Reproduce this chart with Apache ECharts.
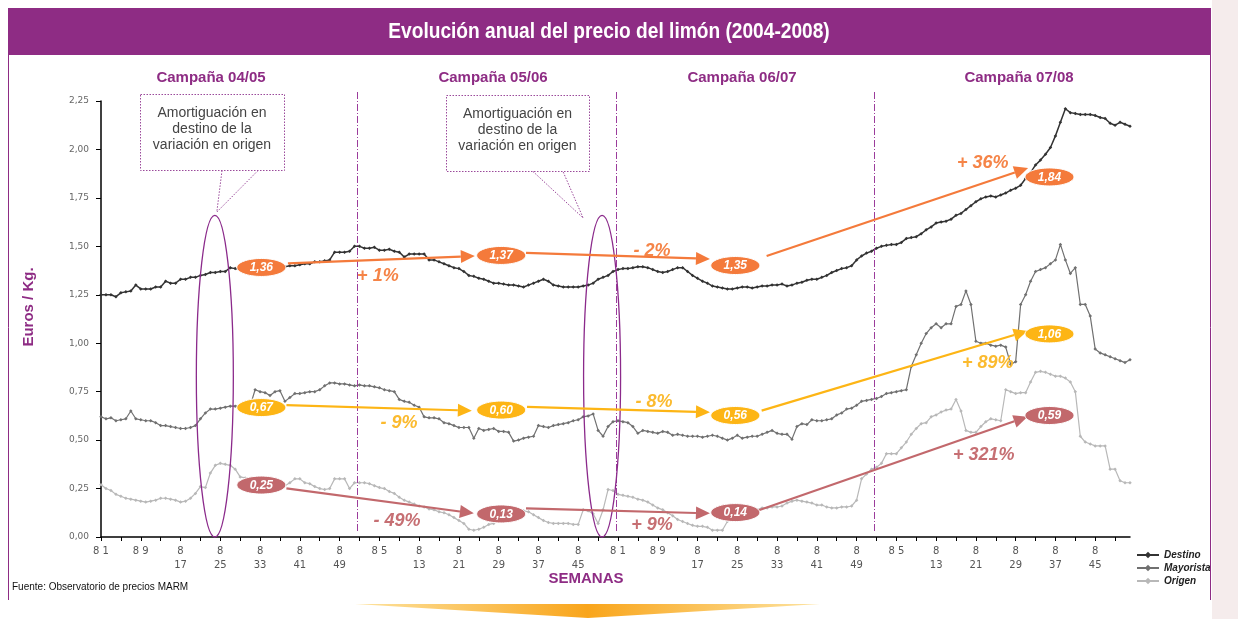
<!DOCTYPE html>
<html><head><meta charset="utf-8">
<script src="https://cdn.jsdelivr.net/npm/echarts@6/dist/echarts.min.js"></script>
<style>html,body{margin:0;padding:0;background:#fff}#c{width:1238px;height:619px}</style>
</head><body><div id="c"></div><script>
// ---------- data ----------
const campaigns = ['Campaña 04/05', 'Campaña 05/06', 'Campaña 06/07', 'Campaña 07/08'];
const weeksPerCampaign = 52;
const weeks = [];
for (let c = 0; c < campaigns.length; c++) for (let w = 1; w <= weeksPerCampaign; w++) weeks.push(String(w));
const yTickValues = [0, 0.25, 0.5, 0.75, 1, 1.25, 1.5, 1.75, 2, 2.25];

const destino = [
1.25,1.25,1.25,1.24,1.26,1.265,1.27,1.30,1.28,1.28,1.28,1.29,1.29,1.32,1.31,1.31,1.33,1.33,1.34,1.34,1.35,1.355,1.365,1.365,1.37,1.37,1.39,1.385,1.38,1.38,1.38,1.38,1.385,1.39,1.39,1.39,1.39,1.395,1.40,1.40,1.405,1.41,1.41,1.42,1.42,1.425,1.43,1.47,1.47,1.47,1.475,1.50,
1.50,1.49,1.49,1.495,1.48,1.48,1.485,1.475,1.47,1.445,1.46,1.46,1.46,1.46,1.43,1.43,1.42,1.41,1.40,1.39,1.385,1.37,1.35,1.345,1.335,1.33,1.32,1.31,1.31,1.305,1.30,1.30,1.295,1.29,1.30,1.31,1.32,1.33,1.32,1.30,1.295,1.29,1.29,1.29,1.29,1.295,1.30,1.31,1.33,1.34,1.35,1.37,
1.38,1.385,1.385,1.39,1.395,1.395,1.39,1.38,1.37,1.365,1.37,1.38,1.39,1.39,1.37,1.35,1.335,1.32,1.31,1.295,1.29,1.285,1.28,1.28,1.285,1.29,1.29,1.285,1.29,1.295,1.295,1.30,1.30,1.305,1.295,1.30,1.31,1.315,1.325,1.33,1.33,1.34,1.35,1.365,1.375,1.385,1.39,1.40,1.43,1.45,1.465,1.475,
1.49,1.50,1.505,1.51,1.51,1.52,1.54,1.545,1.55,1.565,1.585,1.60,1.62,1.625,1.63,1.64,1.66,1.67,1.69,1.71,1.73,1.745,1.755,1.76,1.755,1.765,1.775,1.79,1.80,1.815,1.85,1.88,1.92,1.945,1.975,2.01,2.07,2.14,2.21,2.19,2.185,2.18,2.18,2.18,2.175,2.165,2.16,2.135,2.125,2.14,2.13,2.12
];
const mayorista = [
0.62,0.61,0.615,0.60,0.605,0.61,0.65,0.61,0.605,0.60,0.60,0.59,0.575,0.575,0.57,0.565,0.56,0.56,0.565,0.575,0.61,0.64,0.66,0.66,0.665,0.67,0.675,0.675,0.675,0.675,0.675,0.76,0.75,0.745,0.73,0.75,0.755,0.70,0.72,0.74,0.74,0.745,0.75,0.75,0.76,0.78,0.795,0.795,0.79,0.79,0.785,0.78,
0.785,0.78,0.78,0.775,0.77,0.76,0.755,0.75,0.71,0.70,0.695,0.68,0.67,0.62,0.615,0.615,0.61,0.59,0.585,0.575,0.565,0.565,0.565,0.51,0.56,0.55,0.555,0.56,0.545,0.545,0.54,0.495,0.50,0.51,0.515,0.52,0.575,0.57,0.565,0.575,0.58,0.585,0.59,0.60,0.605,0.62,0.625,0.635,0.55,0.52,0.57,0.595,
0.60,0.595,0.59,0.57,0.535,0.55,0.545,0.54,0.535,0.545,0.54,0.525,0.53,0.525,0.52,0.52,0.52,0.515,0.52,0.525,0.52,0.51,0.50,0.51,0.525,0.51,0.515,0.52,0.52,0.53,0.54,0.55,0.535,0.53,0.53,0.505,0.57,0.585,0.58,0.605,0.60,0.60,0.605,0.61,0.63,0.64,0.66,0.665,0.68,0.70,0.705,0.71,
0.715,0.725,0.74,0.745,0.75,0.755,0.76,0.88,0.94,1.00,1.05,1.08,1.10,1.08,1.10,1.10,1.19,1.20,1.27,1.20,1.01,1.00,1.00,0.99,0.985,0.99,0.98,0.89,0.905,1.20,1.25,1.32,1.37,1.38,1.39,1.41,1.43,1.51,1.43,1.36,1.39,1.20,1.20,1.14,0.97,0.95,0.94,0.93,0.92,0.91,0.90,0.915
];
const origen = [
0.27,0.25,0.24,0.22,0.21,0.20,0.195,0.19,0.185,0.18,0.185,0.19,0.20,0.20,0.195,0.19,0.18,0.185,0.20,0.225,0.26,0.255,0.33,0.37,0.38,0.375,0.37,0.35,0.31,0.305,0.30,0.28,0.265,0.26,0.255,0.26,0.26,0.265,0.28,0.30,0.30,0.28,0.275,0.26,0.25,0.245,0.25,0.30,0.30,0.30,0.25,0.28,
0.28,0.28,0.275,0.265,0.255,0.25,0.235,0.225,0.205,0.19,0.18,0.17,0.16,0.155,0.145,0.14,0.13,0.125,0.115,0.10,0.085,0.07,0.04,0.035,0.04,0.05,0.065,0.07,0.09,0.11,0.12,0.13,0.13,0.135,0.13,0.115,0.10,0.085,0.075,0.07,0.07,0.07,0.07,0.065,0.065,0.14,0.135,0.12,0.07,0.14,0.245,0.24,
0.22,0.215,0.21,0.205,0.195,0.19,0.18,0.165,0.15,0.14,0.125,0.11,0.09,0.08,0.07,0.06,0.055,0.055,0.05,0.035,0.035,0.035,0.08,0.12,0.12,0.125,0.13,0.14,0.14,0.15,0.15,0.155,0.155,0.16,0.175,0.185,0.19,0.185,0.18,0.175,0.165,0.165,0.155,0.15,0.15,0.155,0.155,0.16,0.19,0.30,0.325,0.35,
0.36,0.38,0.43,0.43,0.43,0.46,0.49,0.53,0.56,0.585,0.59,0.62,0.63,0.645,0.655,0.66,0.71,0.65,0.55,0.54,0.54,0.57,0.595,0.61,0.605,0.60,0.76,0.75,0.74,0.745,0.745,0.80,0.85,0.855,0.85,0.84,0.83,0.83,0.82,0.80,0.75,0.52,0.49,0.48,0.47,0.47,0.47,0.35,0.35,0.29,0.28,0.28
];

// campaign average prices shown in ovals, and changes between campaigns
const ovalText = {
  Destino:   ['1,36', '1,37', '1,35', '1,84'],
  Mayorista: ['0,67', '0,60', '0,56', '1,06'],
  Origen:    ['0,25', '0,13', '0,14', '0,59']
};
const changeText = {
  Destino:   ['+ 1%', '- 2%', '+ 36%'],
  Mayorista: ['- 9%', '- 8%', '+ 89%'],
  Origen:    ['- 49%', '+ 9%', '+ 321%']
};

// ---------- annotation anchors (in data space: week index, €/kg) ----------
const ovalCols = [32.25, 80.5, 127.6, 190.8];
const ovalRows = { Destino: [1.391, 1.453, 1.401, 1.858], Mayorista: [0.668, 0.655, 0.627, 1.048], Origen: [0.268, 0.119, 0.126, 0.627] };
const arrowAt = {
  Destino:   [[37.6, 1.412, 75.2, 1.450], [85.5, 1.466, 122.5, 1.435], [133.9, 1.450, 186.5, 1.904]],
  Mayorista: [[37.3, 0.681, 74.6, 0.652], [85.7, 0.672, 122.5, 0.644], [132.9, 0.652, 186.4, 1.063]],
  Origen:    [[37.3, 0.251, 75.0, 0.122], [85.5, 0.148, 122.5, 0.122], [131.9, 0.134, 186.4, 0.621]]
};
const changeAt = {
  Destino:   [[55.7, 1.345], [110.85, 1.476], [177.4, 1.930]],
  Mayorista: [[59.95, 0.588], [111.25, 0.697], [178.4, 0.898]],
  Origen:    [[59.55, 0.083], [110.85, 0.062], [177.6, 0.423]]
};
const ringAt = [[22.9, 1.66], [100.8, 1.66]];
const dividerAt = [51.5, 103.5, 155.5];

const PURPLE = '#8E2C84';
const annColor = { Destino: '#F47A3B', Mayorista: '#FDB515', Origen: '#C2686C' };
const annText  = { Destino: '#F58447', Mayorista: '#FBBA2E', Origen: '#C66F73' };

const chart = echarts.init(document.getElementById('c'), null, { renderer: 'canvas' });
const fmtY = v => v.toFixed(2).replace('.', ',');

chart.setOption({
  animation: false,
  backgroundColor: '#ffffff',
  grid: { left: 101, top: 101, width: 1029, height: 436, containLabel: false },
  legend: {
    orient: 'vertical', left: 1131, top: 545, itemGap: 3, itemWidth: 22, itemHeight: 8,
    textStyle: { fontStyle: 'italic', fontWeight: 'bold', fontSize: 10, color: '#222', fontFamily: 'Liberation Sans' },
    data: ['Destino', 'Mayorista', 'Origen']
  },
  xAxis: {
    type: 'category', data: weeks, boundaryGap: false,
    axisLine: { lineStyle: { color: '#000', width: 1.5 } },
    axisTick: { interval: 3, length: 4, lineStyle: { color: '#000' } },
    axisLabel: {
      interval: 7, margin: 7, color: '#555', fontSize: 10, fontFamily: 'DejaVu Sans', lineHeight: 14,
      formatter: v => (+v < 10 ? '8 ' + v : '8\n' + v)
    },
    splitLine: { show: false }
  },
  yAxis: {
    type: 'value', min: 0, max: 2.25, interval: 0.25,
    axisLine: { show: true, lineStyle: { color: '#000', width: 1.5 } },
    axisTick: { show: true, length: 5, lineStyle: { color: '#000' } },
    axisLabel: { margin: 12, color: '#666', fontSize: 9, fontFamily: 'DejaVu Sans',
      formatter: v => (yTickValues.indexOf(v) >= 0 ? fmtY(v) : '') },
    splitLine: { show: false }
  },
  series: [
    { name: 'Destino', type: 'line', data: destino, symbol: 'diamond', symbolSize: 3.5, showAllSymbol: true,
      color: '#333', lineStyle: { color: '#333', width: 1.5 }, itemStyle: { color: '#333' }, z: 3 },
    { name: 'Mayorista', type: 'line', data: mayorista, symbol: 'diamond', symbolSize: 3.5, showAllSymbol: true,
      color: '#707070', lineStyle: { color: '#707070', width: 1.2 }, itemStyle: { color: '#707070' }, z: 3 },
    { name: 'Origen', type: 'line', data: origen, symbol: 'diamond', symbolSize: 3.5, showAllSymbol: true,
      color: '#b8b8b8', lineStyle: { color: '#b8b8b8', width: 1.2 }, itemStyle: { color: '#b8b8b8' }, z: 3 }
  ]
});

// ---------- overlays positioned through the chart's own scales ----------
function px(i, v) {
  const a = chart.convertToPixel({ gridIndex: 0 }, [0, v]);
  const b = chart.convertToPixel({ gridIndex: 0 }, [weeks.length - 1, v]);
  return [a[0] + (b[0] - a[0]) * i / (weeks.length - 1), a[1]];
}
const g = [];
// frame, title bar, right texture
g.push({ type: 'rect', shape: { x: 1212, y: 0, width: 26, height: 619 }, style: { fill: '#f5ecec' }, z: 0 });
g.push({ type: 'rect', shape: { x: 8, y: 8, width: 1203, height: 47 }, style: { fill: PURPLE }, z: 5 });
g.push({ type: 'text', x: 609, y: 32, scaleX: 0.87, style: { text: 'Evolución anual del precio del limón (2004-2008)', x: 0, y: 0, align: 'center', verticalAlign: 'middle',
  fill: '#fff', font: 'bold 22px "Liberation Sans", Arial, sans-serif' }, z: 6 });
g.push({ type: 'line', shape: { x1: 8.5, y1: 55, x2: 8.5, y2: 600 }, style: { stroke: PURPLE, lineWidth: 1 }, z: 5 });
g.push({ type: 'line', shape: { x1: 1210.5, y1: 55, x2: 1210.5, y2: 600 }, style: { stroke: PURPLE, lineWidth: 1 }, z: 5 });
g.push({ type: 'polygon', shape: { points: [[355, 604], [820, 604], [588, 618]] },
  style: { fill: new echarts.graphic.LinearGradient(0, 0, 1, 0, [{ offset: 0, color: '#fde3a0' }, { offset: 0.5, color: '#f9a51b' }, { offset: 1, color: '#fde3a0' }]) }, z: 5 });

// campaign titles and dividers
const campaignX = [211, 493, 742, 1019];
campaigns.forEach((c, k) => g.push({ type: 'text', style: { text: c, x: campaignX[k], y: 78, align: 'center', verticalAlign: 'middle',
  fill: PURPLE, font: 'bold 15px "Liberation Sans", Arial, sans-serif' }, z: 6 }));
dividerAt.forEach(i => {
  const x = Math.round(px(i, 0)[0]) + 0.5;
  g.push({ type: 'line', shape: { x1: x, y1: 92, x2: x, y2: 532 }, style: { stroke: '#9B3C9B', lineWidth: 1, lineDash: [7, 2, 1, 2] }, z: 4 });
});

// axis titles and source
g.push({ type: 'text', rotation: Math.PI / 2, x: 29, y: 307, style: { text: 'Euros / Kg.', x: 0, y: 0, align: 'center', verticalAlign: 'middle',
  fill: PURPLE, font: 'bold 15px "Liberation Sans", Arial, sans-serif' }, z: 6 });
g.push({ type: 'text', style: { text: 'SEMANAS', x: 586, y: 579, align: 'center', verticalAlign: 'middle',
  fill: PURPLE, font: 'bold 15px "Liberation Sans", Arial, sans-serif' }, z: 6 });
g.push({ type: 'text', style: { text: 'Fuente: Observatorio de precios MARM', x: 12, y: 587, align: 'left', verticalAlign: 'middle',
  fill: '#111', font: '10px "Liberation Sans", Arial, sans-serif' }, z: 6 });

// rings around the damping zones
ringAt.forEach(([i, top]) => {
  const c = px(i, 0), t = px(i, top);
  g.push({ type: 'ellipse', shape: { cx: c[0], cy: (c[1] + t[1]) / 2, rx: 18.5, ry: (c[1] - t[1]) / 2 },
    style: { fill: 'none', stroke: '#8B2A8B', lineWidth: 1.3 }, z: 7 });
});

// callout boxes
const callouts = [
  { box: [140, 94, 144, 76], tip: [23.3, 1.677], base: [222, 258] },
  { box: [446, 95, 143, 76], tip: [97.0, 1.646], base: [533, 563] }
];
callouts.forEach(cb => {
  const [x, y, w, h] = cb.box;
  g.push({ type: 'rect', shape: { x: x + 0.5, y: y + 0.5, width: w, height: h }, style: { fill: '#fff', stroke: '#9B4A9B', lineWidth: 1, lineDash: [1.5, 1.5] }, z: 6 });
  const t = px(cb.tip[0], cb.tip[1]);
  g.push({ type: 'polyline', shape: { points: [[cb.base[0], y + h + 0.5], t, [cb.base[1], y + h + 0.5]] },
    style: { fill: 'none', stroke: '#9B4A9B', lineWidth: 1, lineDash: [1.5, 1.5] }, z: 6 });
  g.push({ type: 'text', style: { text: 'Amortiguación en\ndestino de la\nvariación en origen', x: x + w / 2, y: y + h / 2 - 3,
    align: 'center', verticalAlign: 'middle', lineHeight: 16, fill: '#444', font: '14px "Liberation Sans", Arial, sans-serif' }, z: 7 });
});

// arrows, ovals and percentage changes
Object.keys(ovalText).forEach(s => {
  arrowAt[s].forEach(([i1, v1, i2, v2]) => {
    const a = px(i1, v1), b = px(i2, v2);
    const dx = b[0] - a[0], dy = b[1] - a[1], L = Math.hypot(dx, dy), ux = dx / L, uy = dy / L;
    const hl = 14, hw = 6.5;
    const bx = b[0] - ux * hl, by = b[1] - uy * hl;
    g.push({ type: 'line', shape: { x1: a[0], y1: a[1], x2: bx, y2: by }, style: { stroke: annColor[s], lineWidth: 2.2 }, z: 8 });
    g.push({ type: 'polygon', shape: { points: [b, [bx - uy * hw, by + ux * hw], [bx + uy * hw, by - ux * hw]] }, style: { fill: annColor[s] }, z: 8 });
  });
  ovalText[s].forEach((t, k) => {
    const p = px(ovalCols[k], ovalRows[s][k]);
    g.push({ type: 'ellipse', shape: { cx: p[0], cy: p[1], rx: 24.5, ry: 9 }, style: { fill: annColor[s], stroke: '#fff', lineWidth: 1 }, z: 9 });
    g.push({ type: 'text', style: { text: t, x: p[0], y: p[1] + 0.5, align: 'center', verticalAlign: 'middle', fill: '#fff',
      font: 'italic bold 12px "Liberation Sans", Arial, sans-serif' }, z: 10 });
  });
  changeText[s].forEach((t, k) => {
    const p = px(changeAt[s][k][0], changeAt[s][k][1]);
    g.push({ type: 'text', style: { text: t, x: p[0], y: p[1], align: 'center', verticalAlign: 'middle', fill: annText[s],
      font: 'italic bold 18px "Liberation Sans", Arial, sans-serif' }, z: 10 });
  });
});

chart.setOption({ graphic: { elements: g } });
</script></body></html>
